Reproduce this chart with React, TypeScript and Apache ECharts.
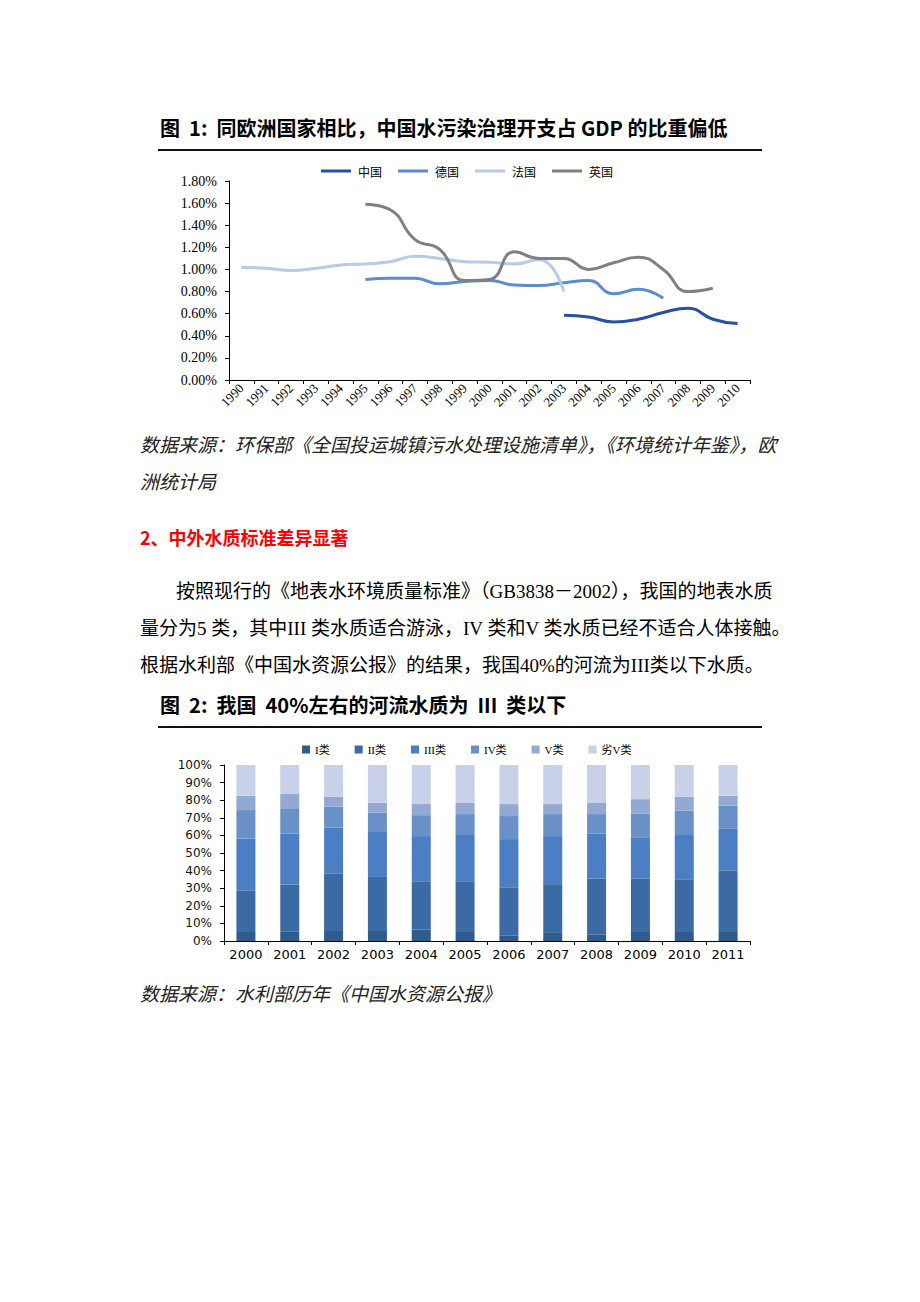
import React, { useEffect, useRef } from "react";
import * as echarts from "echarts";

const years1 = ["1990","1991","1992","1993","1994","1995","1996","1997","1998","1999","2000","2001","2002","2003","2004","2005","2006","2007","2008","2009","2010"];
const china = [null,null,null,null,null,null,null,null,null,null,null,null,null,0.585,0.57,0.525,0.55,0.61,0.65,0.55,0.51];
const germany = [null,null,null,null,null,0.91,0.92,0.92,0.87,0.89,0.90,0.86,0.855,0.88,0.90,0.78,0.82,0.74,null,null,null];
const france = [1.02,1.01,0.99,1.01,1.04,1.05,1.07,1.12,1.10,1.07,1.065,1.05,1.09,0.80,null,null,null,null,null,null,null];
const uk = [null,null,null,null,null,1.59,1.54,1.27,1.18,0.90,0.91,1.16,1.10,1.10,1.00,1.06,1.11,1.00,0.80,0.83,null];
const lineNames = ["中国","德国","法国","英国"];
const yTicks1 = { min: 0, max: 1.8, interval: 0.2 };

const years2 = ["2000","2001","2002","2003","2004","2005","2006","2007","2008","2009","2010","2011"];
const classI = [5.1,5.5,5.7,5.7,6.6,5.1,3.2,4.6,3.8,5.1,5.1,5.1];
const classII = [23.7,26.6,32.6,30.7,27.0,28.5,27.0,27.7,31.7,30.4,30.0,34.9];
const classIII = [29.5,29.0,26.2,26.0,26.0,27.1,27.7,27.3,25.6,23.1,25.6,24.0];
const classIV = [16.1,13.9,11.8,10.6,11.9,11.4,13.1,12.5,11.0,13.9,13.3,12.9];
const classV = [8.1,8.5,5.7,5.6,6.3,6.6,6.8,5.7,6.6,8.1,7.9,5.6];
const classWorse = [17.5,16.5,18.0,21.4,22.2,21.3,22.2,22.2,21.3,19.4,18.1,17.5];
const barNames = ["I类","II类","III类","IV类","V类","劣V类"];

const CJK = "'Noto Sans CJK SC'";
const SERIF = "'Liberation Serif', 'Noto Sans CJK SC'";

export default function App() {
  const ref = useRef<HTMLDivElement>(null);
  useEffect(() => {
    if (!ref.current) return;
    const chart = echarts.init(ref.current, null, { renderer: "svg" });
    const txt = (text: string, x: number, y: number, o: any = {}) => ({
      type: "text", x, y, silent: true,
      style: { text, fontSize: 19, fontFamily: SERIF, fill: "#000", verticalAlign: "middle", ...o },
    });
    const lineColors = ["#2450A8", "#5B8BD0", "#B7CBE8", "#808080"];
    const barColors = ["#2F5B8D", "#3B6AA5", "#4B7EC2", "#6A90C8", "#93A8D3", "#C8D1E8"];
    const lineData = [china, germany, france, uk];
    const barData = [classI, classII, classIII, classIV, classV, classWorse];
    const axisLine = { show: true, lineStyle: { color: "#000", width: 1 } };
    chart.setOption({
      animation: false,
      backgroundColor: "#fff",
      graphic: [
        txt("图  1:  同欧洲国家相比，中国水污染治理开支占 GDP 的比重偏低", 160, 127, { fontFamily: CJK, fontWeight: "bold", fontSize: 20 }),
        { type: "line", shape: { x1: 158, y1: 150, x2: 762, y2: 150 }, style: { stroke: "#111", lineWidth: 2 } },
        txt("数据来源：环保部《全国投运城镇污水处理设施清单》，《环境统计年鉴》，欧", 140, 443, { fontFamily: CJK, fontStyle: "italic", fill: "#222" }),
        txt("洲统计局", 140, 480, { fontFamily: CJK, fontStyle: "italic", fill: "#222" }),
        txt("2、中外水质标准差异显著", 140, 537, { fontFamily: CJK, fontWeight: "bold", fill: "#FF0000", fontSize: 18 }),
        txt("按照现行的《地表水环境质量标准》（GB3838－2002），我国的地表水质", 176, 591),
        txt("量分为5 类，其中III 类水质适合游泳，IV 类和V 类水质已经不适合人体接触。", 140, 628),
        txt("根据水利部《中国水资源公报》的结果，我国40%的河流为III类以下水质。", 140, 665),
        txt("图  2:  我国  40%左右的河流水质为  III  类以下", 160, 704, { fontFamily: CJK, fontWeight: "bold", fontSize: 20 }),
        { type: "line", shape: { x1: 158, y1: 727, x2: 762, y2: 727 }, style: { stroke: "#111", lineWidth: 2 } },
        txt("数据来源：水利部历年《中国水资源公报》", 140, 992, { fontFamily: CJK, fontStyle: "italic", fill: "#222" }),
      ],
      legend: [
        {
          data: lineNames, left: 316, top: 160, itemWidth: 30, itemHeight: 3, itemGap: 16, icon: "rect",
          textStyle: { fontSize: 12, fontFamily: CJK, color: "#000", padding: [0, 0, 0, 2] },
        },
        {
          data: barNames, left: 297, top: 739, itemWidth: 8, itemHeight: 8, itemGap: 25, icon: "rect",
          textStyle: { fontSize: 11, fontFamily: SERIF, color: "#000" },
        },
      ],
      grid: [
        { left: 229, top: 181, width: 521, height: 199 },
        { left: 224, top: 765, width: 526, height: 176 },
      ],
      xAxis: [
        {
          type: "category", gridIndex: 0, data: years1, boundaryGap: true,
          axisLine, axisTick: { show: true, length: 4, lineStyle: { color: "#000" } },
          axisLabel: { rotate: 45, fontSize: 13, fontFamily: "'Liberation Serif'", color: "#000", margin: 6, interval: 0 },
        },
        {
          type: "category", gridIndex: 1, data: years2, boundaryGap: true,
          axisLine, axisTick: { show: true, length: 4, lineStyle: { color: "#000" } },
          axisLabel: { fontSize: 13, fontFamily: "'DejaVu Sans'", color: "#000", margin: 7, interval: 0 },
        },
      ],
      yAxis: [
        {
          type: "value", gridIndex: 0, ...yTicks1,
          axisLine, axisTick: { show: true, length: 4, lineStyle: { color: "#000" } }, splitLine: { show: false },
          axisLabel: { fontSize: 14, fontFamily: "'Liberation Serif'", color: "#000", margin: 12, formatter: (v: number) => v.toFixed(2) + "%" },
        },
        {
          type: "value", gridIndex: 1, min: 0, max: 100, interval: 10,
          axisLine, axisTick: { show: true, length: 4, lineStyle: { color: "#000" } }, splitLine: { show: false },
          axisLabel: { fontSize: 12, fontFamily: "'DejaVu Sans'", color: "#111", margin: 12, formatter: "{value}%" },
        },
      ],
      series: [
        ...lineNames.map((n, i) => ({
          name: n, type: "line", xAxisIndex: 0, yAxisIndex: 0, data: lineData[i], smooth: 0.5,
          symbol: "none", showSymbol: false, connectNulls: false,
          lineStyle: { color: lineColors[i], width: 3 }, itemStyle: { color: lineColors[i] },
        })),
        ...barNames.map((n, i) => ({
          name: n, type: "bar", xAxisIndex: 1, yAxisIndex: 1, stack: "q", data: barData[i], barWidth: 19,
          itemStyle: { color: barColors[i] },
        })),
      ],
    });
    return () => chart.dispose();
  }, []);
  return <div ref={ref} style={{ position: "absolute", left: 0, top: 0, width: 920, height: 1302, background: "#fff" }} />;
}
